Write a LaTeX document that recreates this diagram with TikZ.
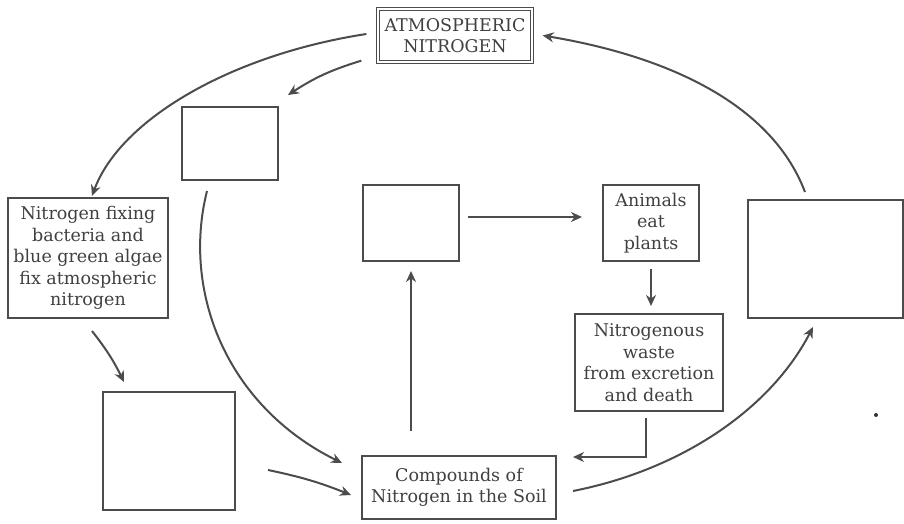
\documentclass[tikz,border=0pt]{standalone}
\usepackage{fontspec}
\setmainfont{DejaVu Serif}
\usetikzlibrary{arrows.meta,calc}
\begin{document}
\begin{tikzpicture}[x=1pt,y=-1pt,
  box/.style={draw=black!70, line width=2pt, align=center, inner sep=2pt,
    text=black!75, font=\fontsize{17.5}{21.5}\selectfont},
  dbox/.style={box, line width=1.3pt, double=white, double distance=1.6pt},
  conn/.style={draw=black!70, line width=2pt, -{Stealth[length=11pt,width=10pt]}}]
\useasboundingbox (0,0) rectangle (904,524);

\node[dbox, minimum width=154pt, minimum height=53pt] (atm) at (455,35.5) {ATMOSPHERIC\\NITROGEN};
\node[box, minimum width=96pt, minimum height=73pt] (tl) at (230,143.5) {};
\node[box, minimum width=160pt, minimum height=120pt] (nfix) at (88,258) {Nitrogen fixing\\bacteria and\\blue green algae\\fix atmospheric\\nitrogen};
\node[box, minimum width=132pt, minimum height=118pt] (bl) at (169,451) {};
\node[box, minimum width=194pt, minimum height=63pt] (comp) at (459,487.5) {Compounds of\\Nitrogen in the Soil};
\node[box, minimum width=96pt, minimum height=76pt] (cbox) at (411,223) {};
\node[box, minimum width=96pt, minimum height=76pt] (animals) at (651,223) {Animals\\eat\\plants};
\node[box, minimum width=148pt, minimum height=97pt] (waste) at (649,362.5) {Nitrogenous\\waste\\from excretion\\and death};
\node[box, minimum width=155pt, minimum height=118pt] (right) at (825,259) {};
\node[fill=black!80, circle, inner sep=0pt, minimum size=4pt] (dot) at (876,415) {};

% connectors
\draw[conn] ($(atm.west)+(-11,-1.5)$) .. controls (230,55) and (120,120) .. ($(nfix.north)+(4,-1)$);
\draw[conn] ($(atm.south west)+(-16,-2)$) to[bend right=8] ($(tl.north east)+(9,-11)$);
\draw[conn] ($(tl.south)+(-23,10)$) .. controls (182,290) and (225,405) .. ($(comp.north west)+(-19,8)$);
\draw[conn] ($(nfix.south)+(4,12)$) to[bend left=6] ($(bl.north west)+(22,-9)$);
\draw[conn] ($(bl.east)+(32,19)$) to[bend left=5] ($(comp.west)+(-10,7.5)$);
\draw[conn] ($(cbox.south |- comp.north)+(0,-24)$) -- ($(cbox.south)+(0,9)$);
\draw[conn] ($(cbox.east)+(8,-6)$) -- ($(animals.west)+(-20,-6)$);
\draw[conn] ($(animals.south)+(0,7)$) -- ($(animals.south |- waste.north)+(0,-7)$);
\draw[conn] ($(waste.south)+(-3,6)$) |- ($(comp.east)+(16,-30.5)$);
\draw[conn] ($(comp.east)+(16,3.5)$) .. controls (680,470) and (770,410) .. ($(right.south)+(-12,8)$);
\draw[conn] ($(right.north)+(-20,-7)$) .. controls (770,100) and (660,55) .. ($(atm.east)+(10,0)$);
\end{tikzpicture}
\end{document}
